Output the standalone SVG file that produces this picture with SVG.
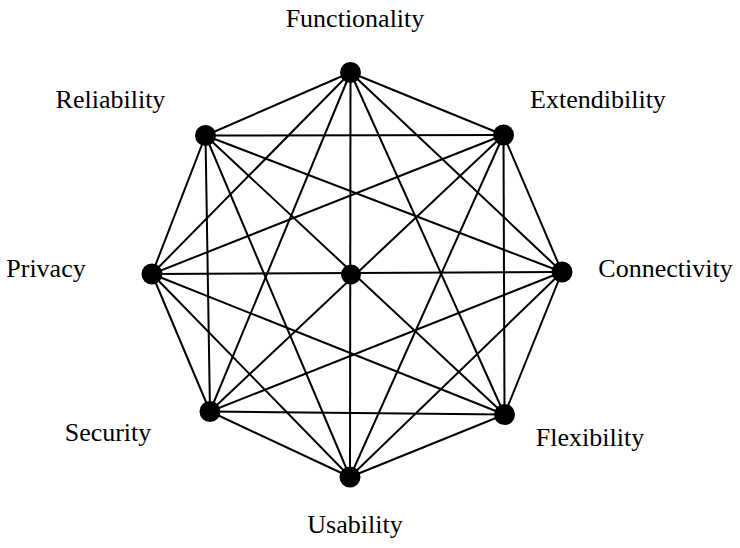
<svg xmlns="http://www.w3.org/2000/svg" width="740" height="548" viewBox="0 0 740 548">
<style>
.bg{fill:#ffffff}
.edge{stroke:#000000;stroke-width:2;fill:none}
.dot{fill:#000000}
.lbl{font-family:"Liberation Serif","Times New Roman",serif;font-size:26px;fill:#000000;text-anchor:middle}
</style>
<rect class="bg" x="0" y="0" width="740" height="548"/>
<g id="connectors">
<!-- F=(350.5,72.5) E=(503.5,135) C=(562,272) Fl=(504.5,414.5) U=(350,477) S=(210,411.5) P=(152,274) R=(205.5,135.5) -->
<line class="edge" x1="350.5" y1="72.5" x2="503.5" y2="135"/>
<line class="edge" x1="350.5" y1="72.5" x2="562" y2="272"/>
<line class="edge" x1="350.5" y1="72.5" x2="504.5" y2="414.5"/>
<line class="edge" x1="350.5" y1="72.5" x2="350" y2="477"/>
<line class="edge" x1="350.5" y1="72.5" x2="210" y2="411.5"/>
<line class="edge" x1="350.5" y1="72.5" x2="152" y2="274"/>
<line class="edge" x1="350.5" y1="72.5" x2="205.5" y2="135.5"/>
<line class="edge" x1="503.5" y1="135" x2="562" y2="272"/>
<line class="edge" x1="503.5" y1="135" x2="504.5" y2="414.5"/>
<line class="edge" x1="503.5" y1="135" x2="350" y2="477"/>
<line class="edge" x1="503.5" y1="135" x2="210" y2="411.5"/>
<line class="edge" x1="503.5" y1="135" x2="152" y2="274"/>
<line class="edge" x1="503.5" y1="135" x2="205.5" y2="135.5"/>
<line class="edge" x1="562" y1="272" x2="504.5" y2="414.5"/>
<line class="edge" x1="562" y1="272" x2="350" y2="477"/>
<line class="edge" x1="562" y1="272" x2="210" y2="411.5"/>
<line class="edge" x1="562" y1="272" x2="152" y2="274"/>
<line class="edge" x1="562" y1="272" x2="205.5" y2="135.5"/>
<line class="edge" x1="504.5" y1="414.5" x2="350" y2="477"/>
<line class="edge" x1="504.5" y1="414.5" x2="210" y2="411.5"/>
<line class="edge" x1="504.5" y1="414.5" x2="152" y2="274"/>
<line class="edge" x1="504.5" y1="414.5" x2="205.5" y2="135.5"/>
<line class="edge" x1="350" y1="477" x2="210" y2="411.5"/>
<line class="edge" x1="350" y1="477" x2="152" y2="274"/>
<line class="edge" x1="350" y1="477" x2="205.5" y2="135.5"/>
<line class="edge" x1="210" y1="411.5" x2="152" y2="274"/>
<line class="edge" x1="210" y1="411.5" x2="205.5" y2="135.5"/>
<line class="edge" x1="152" y1="274" x2="205.5" y2="135.5"/>
</g>
<g id="node-functionality"><circle class="dot" cx="350.5" cy="72.5" r="10.5"/><text class="lbl" x="355" y="27">Functionality</text></g>
<g id="node-extendibility"><circle class="dot" cx="503.5" cy="135" r="10.5"/><text class="lbl" x="598" y="108">Extendibility</text></g>
<g id="node-connectivity"><circle class="dot" cx="562" cy="272" r="10.5"/><text class="lbl" x="665.5" y="277">Connectivity</text></g>
<g id="node-flexibility"><circle class="dot" cx="504.5" cy="414.5" r="10.5"/><text class="lbl" x="590" y="446">Flexibility</text></g>
<g id="node-usability"><circle class="dot" cx="350" cy="477" r="10.5"/><text class="lbl" x="355" y="533">Usability</text></g>
<g id="node-security"><circle class="dot" cx="210" cy="411.5" r="10.5"/><text class="lbl" x="108" y="441">Security</text></g>
<g id="node-privacy"><circle class="dot" cx="152" cy="274" r="10.5"/><text class="lbl" x="46" y="277">Privacy</text></g>
<g id="node-reliability"><circle class="dot" cx="205.5" cy="135.5" r="10.5"/><text class="lbl" x="110.5" y="108">Reliability</text></g>
<g id="node-center"><circle class="dot" cx="351" cy="274.5" r="10"/></g>
</svg>
